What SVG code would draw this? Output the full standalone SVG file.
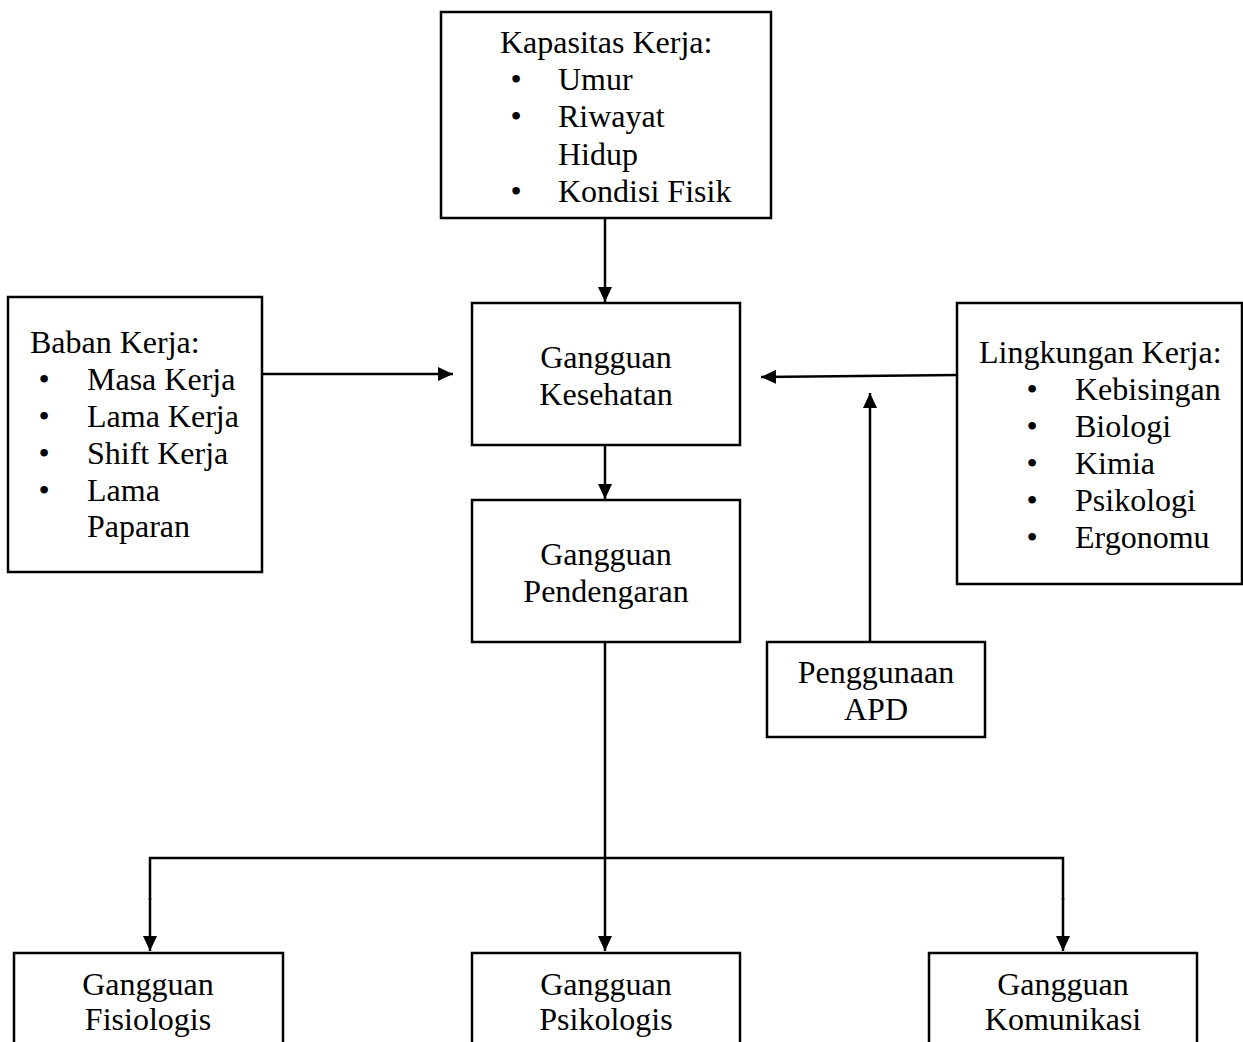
<svg xmlns="http://www.w3.org/2000/svg" width="1243" height="1042" viewBox="0 0 1243 1042">
<style>
.box{fill:#fff;stroke:#000;stroke-width:2.5}
.t{font-family:"Liberation Serif","Times New Roman",serif;font-size:32px;fill:#000}
.c{text-anchor:middle}
.ln{fill:none;stroke:#000;stroke-width:2.5}
</style>
<defs>
<marker id="ah" viewBox="0 0 15 14" refX="15" refY="7" markerWidth="15" markerHeight="14" markerUnits="userSpaceOnUse" orient="auto">
<path d="M0,0 L15,7 L0,14 Z" fill="#000"/>
</marker>
</defs>
<rect width="1243" height="1042" fill="#fff"/>
<g id="connectors">
<line class="ln" x1="605" y1="218" x2="605" y2="302" marker-end="url(#ah)"/>
<line class="ln" x1="262" y1="374" x2="453" y2="374" marker-end="url(#ah)"/>
<line class="ln" x1="957" y1="375" x2="761" y2="377" marker-end="url(#ah)"/>
<line class="ln" x1="870" y1="642" x2="870" y2="393" marker-end="url(#ah)"/>
<line class="ln" x1="605" y1="445" x2="605" y2="499" marker-end="url(#ah)"/>
<line class="ln" x1="605" y1="642" x2="605" y2="951" marker-end="url(#ah)"/>
<polyline class="ln" points="150,900 150,858 1063,858 1063,900"/>
<line class="ln" x1="150" y1="898" x2="150" y2="951" marker-end="url(#ah)"/>
<line class="ln" x1="1063" y1="898" x2="1063" y2="951" marker-end="url(#ah)"/>
</g>
<g id="kapasitas">
<rect class="box" x="441" y="12" width="330" height="206"/>
<text class="t" x="500" y="53">Kapasitas Kerja:</text>
<text class="t c" x="516" y="90">•</text><text class="t" x="558" y="90">Umur</text>
<text class="t c" x="516" y="127">•</text><text class="t" x="558" y="127">Riwayat</text>
<text class="t" x="558" y="165">Hidup</text>
<text class="t c" x="516" y="202">•</text><text class="t" x="558" y="202">Kondisi Fisik</text>
</g>
<g id="beban">
<rect class="box" x="8" y="297" width="254" height="275"/>
<text class="t" x="30" y="353">Baban Kerja:</text>
<text class="t c" x="44" y="390">•</text><text class="t" x="87" y="390">Masa Kerja</text>
<text class="t c" x="44" y="427">•</text><text class="t" x="87" y="427">Lama Kerja</text>
<text class="t c" x="44" y="464">•</text><text class="t" x="87" y="464">Shift Kerja</text>
<text class="t c" x="44" y="501">•</text><text class="t" x="87" y="501">Lama</text>
<text class="t" x="87" y="537">Paparan</text>
</g>
<g id="kesehatan">
<rect class="box" x="472" y="303" width="268" height="142"/>
<text class="t c" x="606" y="368">Gangguan</text>
<text class="t c" x="606" y="405">Kesehatan</text>
</g>
<g id="pendengaran">
<rect class="box" x="472" y="500" width="268" height="142"/>
<text class="t c" x="606" y="565">Gangguan</text>
<text class="t c" x="606" y="602">Pendengaran</text>
</g>
<g id="lingkungan">
<rect class="box" x="957" y="303" width="285" height="281"/>
<text class="t" x="979" y="363">Lingkungan Kerja:</text>
<text class="t c" x="1032" y="400">•</text><text class="t" x="1075" y="400">Kebisingan</text>
<text class="t c" x="1032" y="437">•</text><text class="t" x="1075" y="437">Biologi</text>
<text class="t c" x="1032" y="474">•</text><text class="t" x="1075" y="474">Kimia</text>
<text class="t c" x="1032" y="511">•</text><text class="t" x="1075" y="511">Psikologi</text>
<text class="t c" x="1032" y="548">•</text><text class="t" x="1075" y="548">Ergonomu</text>
</g>
<g id="apd">
<rect class="box" x="767" y="642" width="218" height="95"/>
<text class="t c" x="876" y="683">Penggunaan</text>
<text class="t c" x="876" y="720">APD</text>
</g>
<g id="fisiologis">
<rect class="box" x="14" y="953" width="269" height="120"/>
<text class="t c" x="148" y="995">Gangguan</text>
<text class="t c" x="148" y="1030">Fisiologis</text>
</g>
<g id="psikologis">
<rect class="box" x="472" y="953" width="268" height="120"/>
<text class="t c" x="606" y="995">Gangguan</text>
<text class="t c" x="606" y="1030">Psikologis</text>
</g>
<g id="komunikasi">
<rect class="box" x="929" y="953" width="268" height="120"/>
<text class="t c" x="1063" y="995">Gangguan</text>
<text class="t c" x="1063" y="1030">Komunikasi</text>
</g>
</svg>
